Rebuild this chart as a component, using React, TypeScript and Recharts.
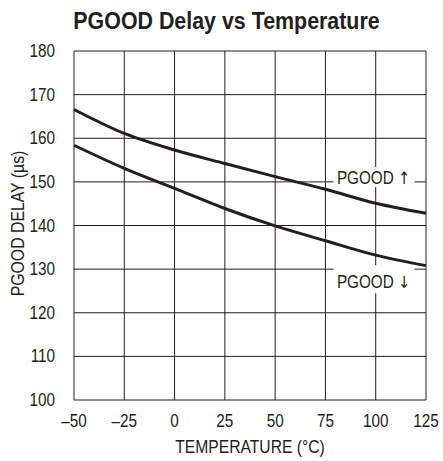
import { LineChart, Line, XAxis, YAxis, CartesianGrid, Label, ReferenceDot } from 'recharts';

const temps = [-50, -25, 0, 25, 50, 75, 100, 125];
const pgoodRise = [166.6, 161.1, 157.3, 154.2, 151.2, 148.3, 145.1, 142.8];
const pgoodFall = [158.4, 153.1, 148.5, 143.9, 139.9, 136.5, 133.2, 130.8];
const xTicks = [-50, -25, 0, 25, 50, 75, 100, 125];
const yTicks = [100, 110, 120, 130, 140, 150, 160, 170, 180];

const data = temps.map((t, i) => ({ t, rise: pgoodRise[i], fall: pgoodFall[i] }));

const FONT = '"Liberation Sans", Arial, sans-serif';
const INK = '#231f20';
const SQ = 0.85; // fake a condensed face

const fmtX = (v: number) => (v < 0 ? `\u2013${Math.abs(v)}` : `${v}`);

function XTick({ x, y, payload }: any) {
  return (
    <text transform={`translate(${x},${y + 19}) scale(${SQ},1)`} textAnchor="middle" fontFamily={FONT} fontSize={18} fill={INK}>
      {fmtX(payload.value)}
    </text>
  );
}

function YTick({ x, y, payload }: any) {
  return (
    <text transform={`translate(${x - 11},${y + 6}) scale(${SQ},1)`} textAnchor="end" fontFamily={FONT} fontSize={18} fill={INK}>
      {payload.value}
    </text>
  );
}

function TagLabel({ viewBox, name, arrow, boxH, dy }: any) {
  const cx = viewBox.x + (viewBox.width || 0) / 2;
  const cy = viewBox.y + (viewBox.height || 0) / 2;
  return (
    <g>
      <rect x={cx - 40} y={cy - boxH / 2} width={81} height={boxH} fill="#fff" />
      <text transform={`translate(${cx},${cy + dy + 6.5}) scale(${SQ},1)`} textAnchor="middle" fontFamily={FONT} fontSize={18} fill={INK}>
        {name}
        <tspan fontFamily="DejaVu Sans" fontSize={17}>{arrow}</tspan>
      </text>
    </g>
  );
}

function AxisTitle({ viewBox, value, vertical }: any) {
  if (vertical) {
    const cy = viewBox.y + viewBox.height / 2;
    return (
      <text transform={`translate(24,${cy - 2}) rotate(-90) scale(0.88,1)`} textAnchor="middle" fontFamily={FONT} fontSize={18} fill={INK}>
        {value}
      </text>
    );
  }
  const cx = viewBox.x + viewBox.width / 2;
  return (
    <text transform={`translate(${cx},453) scale(0.87,1)`} textAnchor="middle" fontFamily={FONT} fontSize={18} fill={INK}>
      {value}
    </text>
  );
}

export default function App() {
  return (
    <div style={{ position: 'absolute', left: 0, top: 0, width: 443, height: 461, background: '#fff' }}>
      <div
        style={{
          position: 'absolute',
          left: 0,
          width: 453,
          top: 8,
          textAlign: 'center',
          fontFamily: FONT,
          fontWeight: 'bold',
          fontSize: 23,
          color: INK,
          transform: 'scaleX(0.93)',
        }}
      >
        PGOOD Delay vs Temperature
      </div>
      <LineChart width={443} height={461} data={data} margin={{ top: 51, right: 17, bottom: 0, left: 0 }}>
        <CartesianGrid stroke={INK} strokeWidth={1} horizontalValues={yTicks} verticalValues={xTicks} />
        <XAxis
          dataKey="t"
          type="number"
          domain={[-50, 125]}
          ticks={xTicks}
          height={61}
          tickLine={false}
          axisLine={false}
          tick={<XTick />}
          interval={0}
        >
          <Label value="TEMPERATURE (°C)" content={<AxisTitle value="TEMPERATURE (°C)" />} />
        </XAxis>
        <YAxis
          type="number"
          domain={[100, 180]}
          ticks={yTicks}
          width={74}
          tickLine={false}
          axisLine={false}
          tick={<YTick />}
          interval={0}
        >
          <Label value="PGOOD DELAY (µs)" content={<AxisTitle value="PGOOD DELAY (µs)" vertical />} />
        </YAxis>
        <ReferenceDot x={98.9} y={151.1} r={0} fill="none" stroke="none">
          <Label content={<TagLabel name="PGOOD " arrow={'\u2191'} boxH={20} dy={0} />} />
        </ReferenceDot>
        <ReferenceDot x={98.9} y={127.7} r={0} fill="none" stroke="none">
          <Label content={<TagLabel name="PGOOD " arrow={'\u2193'} boxH={28} dy={2.5} />} />
        </ReferenceDot>
        <Line dataKey="rise" type="monotone" stroke={INK} strokeWidth={3} dot={false} isAnimationActive={false} />
        <Line dataKey="fall" type="monotone" stroke={INK} strokeWidth={3} dot={false} isAnimationActive={false} />
      </LineChart>
    </div>
  );
}
